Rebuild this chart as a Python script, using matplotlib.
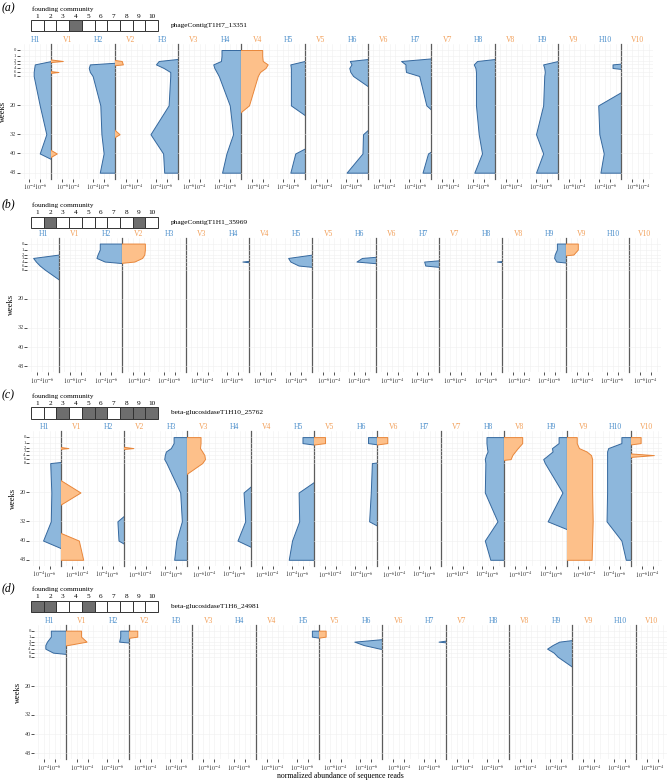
import numpy as np
import matplotlib
matplotlib.use('Agg')
import matplotlib.pyplot as plt
from matplotlib.patches import Rectangle
from matplotlib.ticker import FixedLocator, NullLocator, NullFormatter, FixedFormatter

plt.rcParams['font.family'] = ['Liberation Serif', 'DejaVu Serif']
plt.rcParams['mathtext.fontset'] = 'stix'

# sampling weeks (rows of every facet)
weeks = [0, 1, 2, 3, 4, 6, 8, 20, 32, 40, 48]
week_ticks = [0, 1, 2, 3, 4, 6, 8, 20, 32, 40, 48]

# log10 normalized abundance per facet, None = not detected
abund_a = {
    "H1": [None, None, -8.0, -5.0, -4.9, -4.8, -4.8, -5.9, -7.1, -5.9, None],
    "V1": [None, None, -5.9, None, None, -6.7, None, None, None, -7.0, None],
    "H2": [None, None, None, -3.5, -3.3, -3.5, -4.0, -5.4, -5.6, -6.0, -5.3],
    "V2": [None, None, -6.7, -6.5, None, None, None, None, -7.1, None, None],
    "H3": [None, None, -4.5, -4.0, -5.4, -6.6, -6.6, -6.3, -3.0, -5.3, -5.5],
    "H4": [-4.4, -4.4, -4.3, -2.9, -3.1, -3.5, -3.9, -5.9, -6.5, -5.3, -4.5],
    "V4": [-4.2, -4.2, -4.1, -3.2, -3.6, -4.6, -5.0, -6.6, None, None, None],
    "H5": [None, None, -8.0, -5.4, -5.5, -5.5, -5.5, -5.5, None, -6.3, -5.4],
    "H6": [None, None, -4.7, -5.0, -4.6, -4.8, -5.3, None, -7.1, -7.0, -4.1],
    "H7": [None, None, -2.5, -3.3, -3.3, -3.4, -5.8, -7.1, None, -7.4, -6.4],
    "H8": [None, None, -4.8, -4.2, -4.5, -4.6, -4.6, -4.6, -5.1, -5.7, -4.3],
    "H9": [None, None, -8.0, -5.3, -5.5, -5.6, -5.5, -5.3, -4.0, -5.3, -4.0],
    "H10": [None, None, None, -6.4, -6.4, None, None, -3.8, -4.0, -4.8, -4.2],
}
abund_b = {
    "H1": [None, None, -8.0, -3.3, -3.8, -4.5, -5.4, None, None, None, None],
    "H2": [-3.9, -3.9, -3.5, -3.3, -4.8, None, None, None, None, None, None],
    "V2": [-3.9, -3.9, -4.0, -4.4, -5.8, None, None, None, None, None, None],
    "H4": [None, None, None, None, -6.8, None, None, None, None, None, None],
    "H5": [None, None, -8.0, -3.6, -4.0, -5.5, None, None, None, None, None],
    "H6": [None, None, None, -5.5, -4.5, None, None, None, None, None, None],
    "H7": [None, None, None, None, -5.3, -5.5, None, None, None, None, None],
    "H8": [None, None, None, None, -7.0, None, None, None, None, None, None],
    "H9": [-6.4, -6.4, -6.0, -5.9, -6.3, None, None, None, None, None, None],
    "V9": [-5.8, -5.8, -6.6, None, None, None, None, None, None, None, None],
}
abund_c = {
    "H1": [None, None, None, None, None, None, -6.1, -6.3, -6.2, -4.8, None],
    "V1": [None, None, -6.6, None, None, None, None, -4.4, None, -4.7, -3.9],
    "H2": [None, None, None, None, None, None, None, None, -6.8, -7.0, None],
    "V2": [None, None, -6.3, None, None, None, None, None, None, None, None],
    "H3": [-5.5, -5.5, -5.0, -4.1, -3.9, -3.8, -4.2, -6.7, -7.0, -6.0, -5.6],
    "V3": [-5.6, -5.6, -5.7, -5.3, -4.9, -4.8, -5.3, None, None, None, None],
    "H4": [None, None, None, None, None, None, None, -6.7, -7.0, -5.6, None],
    "H5": [-5.9, -5.9, None, None, None, None, None, -5.2, -5.3, -4.0, -3.4],
    "V5": [-6.0, -6.0, None, None, None, None, None, None, None, None, None],
    "H6": [-6.3, -6.3, None, None, None, None, -7.0, -6.8, -6.5, None, None],
    "V6": [-6.2, -6.2, None, None, None, None, None, None, None, None, None],
    "H8": [-4.8, -4.8, -4.9, -5.0, -4.7, -4.5, -4.6, -4.5, -6.8, -4.5, -5.5],
    "V8": [-4.7, -4.7, -5.5, -6.0, -6.5, -6.8, None, None, None, None, None],
    "H9": [-6.4, -6.4, -5.2, -5.3, -4.5, -3.6, -3.9, -7.1, -4.4, None, None],
    "V9": [-6.3, -6.3, -5.9, -4.5, -3.7, -3.5, -3.5, -3.5, -3.4, -3.5, -3.6],
    "H10": [-6.3, -6.3, -3.9, -3.7, -3.7, -3.7, -3.7, -3.7, -3.6, -6.3, -7.1],
    "V10": [-6.2, -6.2, None, None, -3.8, None, None, None, None, None, None],
}
abund_d = {
    "H1": [-5.3, -5.3, -4.6, -4.3, -4.3, -5.7, None, None, None, None, None],
    "V1": [-5.2, -5.2, -4.2, -7.6, None, None, None, None, None, None, None],
    "H2": [-6.4, -6.4, -6.2, None, None, None, None, None, None, None, None],
    "V2": [-6.5, -6.5, None, None, None, None, None, None, None, None, None],
    "H5": [-6.7, -6.7, None, None, None, None, None, None, None, None, None],
    "V5": [-6.8, -6.8, None, None, None, None, None, None, None, None, None],
    "H6": [None, None, -2.9, -4.6, -7.5, None, None, None, None, None, None],
    "H7": [None, None, -6.7, None, None, None, None, None, None, None, None],
    "H9": [None, None, -5.6, -4.4, -3.4, -4.6, -5.3, None, None, None, None],
}

panels = [abund_a, abund_b, abund_c, abund_d]
panel_tags = ["(a)", "(b)", "(c)", "(d)"]
gene_names = ["phageContigT1H7_13351", "phageContigT1H1_35969",
              "beta-glucosidaseT1H10_25762", "beta-glucosidaseT1H6_24981"]
founders = [[4], [2, 9], [3, 5, 6, 8, 9, 10], [1, 2, 5]]

# y scale: stretched first weeks (pixel positions of week knots)
KNOT_W = [-10, 0, 1, 2, 3, 4, 6, 8, 20, 48, 100]
KNOT_P = [-60, 0, 6, 11, 14.4, 18, 22, 26, 55.4, 122.7, 247.7]


def fwd(w):
    return np.interp(w, KNOT_W, KNOT_P)


def inv(p):
    return np.interp(p, KNOT_P, KNOT_W)


W, H = 668, 780
fig = plt.figure(figsize=(W / 100, H / 100), dpi=100)


def px_axes(x, y, w, h):
    return fig.add_axes([x / W, 1 - (y + h) / H, w / W, h / H])


H_FILL, H_EDGE, H_TXT = "#8DB7DC", "#35689E", "#4C8FCB"
V_FILL, V_EDGE, V_TXT = "#FDC08A", "#E8863A", "#F2A05A"
FLOOR = 1e-13
FACET_W = 31.67
PANEL_DY = 193.55
plot_x0 = [19.6, 27.3, 29.0, 34.0]
header_dy = [0, 3, 0, 0]

hax = px_axes(0, 0, W, H)
hax.set_xlim(0, W)
hax.set_ylim(H, 0)
hax.axis('off')

for k, data in enumerate(panels):
    dy = k * PANEL_DY
    hy = dy + header_dy[k]
    x0 = plot_x0[k]
    top = 44.0 + dy
    height = 134.7

    # header: tag, founding community boxes, gene name
    hax.text(2, hy + 8, panel_tags[k], fontsize=8.5, style='italic', ha='left', va='center')
    hax.text(32, hy + 9, "founding community", fontsize=5.2, ha='left', va='center')
    bw = 12.7
    for j in range(10):
        bx = 31 + j * bw
        shade = (j + 1) in founders[k]
        hax.add_patch(Rectangle((bx, hy + 20.3), bw, 11.2,
                                facecolor="#6E6E6E" if shade else "white",
                                edgecolor="#333333", lw=0.7))
        hax.text(bx + bw / 2, hy + 16, str(j + 1), fontsize=5.2, ha='center', va='center')
    hax.text(171, hy + 25.7, gene_names[k], fontsize=5.3, ha='left', va='center')
    hax.text(x0 - 16.5, top + height / 2, "weeks", rotation=90, fontsize=6,
             ha='center', va='center')

    for i in range(20):
        kind = "H" if i % 2 == 0 else "V"
        name = f"{kind}{i // 2 + 1}"
        ax = px_axes(x0 + i * FACET_W, top, FACET_W, height)
        ax.set_xscale('log')
        ax.set_yscale('function', functions=(fwd, inv))
        if kind == "H":
            ax.set_xlim(10 ** -2.24, 1e-8)
        else:
            ax.set_xlim(1e-8, 10 ** -2.24)
        ax.set_ylim(50.5, -1)
        ax.set_facecolor('none')
        ax.set_axisbelow(True)
        for s in ax.spines.values():
            s.set_visible(False)
        if kind == "H":
            ax.spines['right'].set_visible(True)
            ax.spines['right'].set_color("#5C5C5C")
            ax.spines['right'].set_linewidth(0.9)
            ax.spines['right'].set_zorder(3)

        ax.xaxis.set_major_locator(FixedLocator([1e-6, 1e-4]))
        ax.xaxis.set_major_formatter(FixedFormatter(["$10^{-6}$", "$10^{-4}$"]))
        ax.xaxis.set_minor_locator(FixedLocator([1e-7, 1e-5, 1e-3]))
        ax.xaxis.set_minor_formatter(NullFormatter())
        ax.yaxis.set_major_locator(FixedLocator(week_ticks))
        ax.yaxis.set_minor_locator(NullLocator())
        ax.tick_params(axis='x', which='major', length=2, width=0.6, pad=0.8,
                       labelsize=4.4, color="#333333", labelcolor="#333333")
        ax.tick_params(axis='x', which='minor', length=0)
        ax.grid(True, which='both', color="#EFEFEF", lw=0.4)
        if i == 0:
            ax.tick_params(axis='y', length=2, width=0.6, labelleft=False, color="#333333")
            ytr = ax.get_yaxis_transform()
            for t in week_ticks:
                ax.text(-0.105, t, str(t), transform=ytr, ha='right', va='center',
                        fontsize=3.3 if t < 10 else 4.4, color="#333333")
        else:
            ax.tick_params(axis='y', length=0, labelleft=False)

        ax.set_title(name, fontsize=5.5, color=H_TXT if kind == "H" else V_TXT, pad=0.8)

        vals = data.get(name)
        if vals is not None:
            x = np.array([FLOOR if v is None else 10.0 ** v for v in vals])
            ax.fill_betweenx(weeks, x, 1e-30,
                             facecolor=H_FILL if kind == "H" else V_FILL,
                             edgecolor=H_EDGE if kind == "H" else V_EDGE, lw=0.7)

hax.text(340, 779.5, "normalized abundance of sequence reads", fontsize=5.6,
         ha='center', va='bottom')

fig.savefig("out.png", dpi=100, facecolor="white")
